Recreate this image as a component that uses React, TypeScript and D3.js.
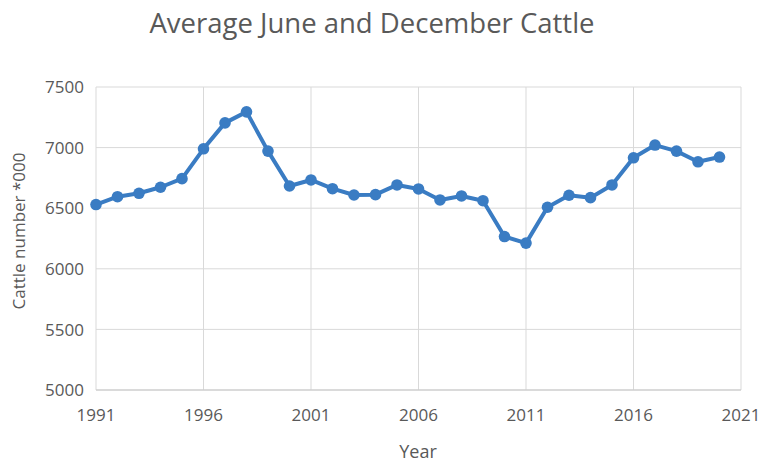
import React from 'react';
import * as d3 from 'd3';

// Average of June and December cattle numbers ('000 head)
const years = [
  1991, 1992, 1993, 1994, 1995, 1996, 1997, 1998, 1999, 2000,
  2001, 2002, 2003, 2004, 2005, 2006, 2007, 2008, 2009, 2010,
  2011, 2012, 2013, 2014, 2015, 2016, 2017, 2018, 2019, 2020,
];
const cattle = [
  6530, 6595, 6623, 6673, 6744, 6990, 7204, 7295, 6971, 6683,
  6733, 6661, 6609, 6612, 6692, 6659, 6568, 6601, 6562, 6266,
  6212, 6508, 6607, 6587, 6692, 6916, 7021, 6971, 6883, 6922,
];
const xTicks = [1991, 1996, 2001, 2006, 2011, 2016, 2021];
const yTicks = [5000, 5500, 6000, 6500, 7000, 7500];

const W = 762;
const H = 462;
const plot = { left: 96, right: 741, top: 87, bottom: 390 };
const font = '"Open Sans", sans-serif';
const textColor = '#595959';
const lineColor = '#3a7cc3';

const App: React.FC = () => {
  const x = d3.scaleLinear().domain([1991, 2021]).range([plot.left, plot.right]);
  const y = d3.scaleLinear().domain([5000, 7500]).range([plot.bottom, plot.top]);

  const points = years.map((yr, i) => ({ yr, v: cattle[i] }));
  const line = d3.line<{ yr: number; v: number }>()
    .x(d => x(d.yr))
    .y(d => y(d.v));

  return (
    <div style={{ position: 'absolute', left: 0, top: 0 }}>
      <svg width={W} height={H} style={{ display: 'block', background: '#fff' }}>
        {/* title */}
        <text x={372} y={33} textAnchor="middle" fill={textColor}
          style={{ fontFamily: font, fontSize: 27.5 }}>
          Average June and December Cattle
        </text>

        {/* grid */}
        {yTicks.map(t => (
          <line key={'gy' + t} x1={plot.left} x2={plot.right} y1={y(t)} y2={y(t)}
            stroke="#d9d9d9" strokeWidth={1} />
        ))}
        {xTicks.map(t => (
          <line key={'gx' + t} x1={x(t)} x2={x(t)} y1={plot.top} y2={plot.bottom}
            stroke="#d9d9d9" strokeWidth={1} />
        ))}
        <line x1={plot.left} x2={plot.right} y1={plot.bottom} y2={plot.bottom}
          stroke="#c8c8c8" strokeWidth={1} />

        {/* y tick labels */}
        {yTicks.map(t => (
          <text key={'ty' + t} x={84} y={y(t)} dy="0.36em" textAnchor="end" fill={textColor}
            style={{ fontFamily: font, fontSize: 17 }}>
            {t}
          </text>
        ))}

        {/* x tick labels */}
        {xTicks.map(t => (
          <text key={'tx' + t} x={x(t)} y={421} textAnchor="middle" fill={textColor}
            style={{ fontFamily: font, fontSize: 17 }}>
            {t}
          </text>
        ))}

        {/* axis titles */}
        <text x={418} y={458} textAnchor="middle" fill={textColor}
          style={{ fontFamily: font, fontSize: 18 }}>
          Year
        </text>
        <text transform="translate(25,231) rotate(-90)" textAnchor="middle" fill={textColor}
          style={{ fontFamily: font, fontSize: 17 }}>
          Cattle number *000
        </text>

        {/* series */}
        <path d={line(points) || ''} fill="none" stroke={lineColor} strokeWidth={4}
          strokeLinejoin="round" />
        {points.map(p => (
          <circle key={p.yr} cx={x(p.yr)} cy={y(p.v)} r={5.8} fill={lineColor} />
        ))}
      </svg>
    </div>
  );
};

export default App;
